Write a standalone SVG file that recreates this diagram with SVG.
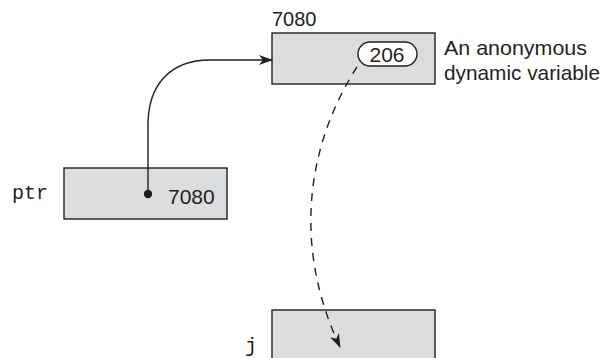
<svg xmlns="http://www.w3.org/2000/svg" width="605" height="358" viewBox="0 0 605 358">
<style>
.box{fill:#dcdddf;stroke:#231f20;stroke-width:1.4}
.t{font-family:"Liberation Sans",Arial,sans-serif;fill:#231f20}
.m{font-family:"Liberation Mono","Courier New",monospace;fill:#231f20}
.ln{fill:none;stroke:#231f20;stroke-width:1.4}
</style>
<defs>
<marker id="ah" viewBox="0 0 14 10" refX="13" refY="5" markerWidth="14" markerHeight="10" markerUnits="userSpaceOnUse" orient="auto">
<path d="M0,0 L14,5 L0,10 L4,5 Z" fill="#231f20"/>
</marker>
</defs>
<rect width="605" height="358" fill="#ffffff"/>
<g id="anon">
<rect class="box" x="272" y="33" width="163" height="51"/>
<text class="t" x="272" y="26" font-size="20">7080</text>
<rect x="358" y="42" width="59" height="24" rx="12" ry="12" fill="#ffffff" stroke="#231f20" stroke-width="1.4"/>
<text class="t" x="387" y="61.5" font-size="21" text-anchor="middle">206</text>
<text class="t" x="444" y="55" font-size="21" textLength="143" lengthAdjust="spacingAndGlyphs">An anonymous</text>
<text class="t" x="444" y="80" font-size="21" textLength="156" lengthAdjust="spacingAndGlyphs">dynamic variable</text>
</g>
<g id="ptr">
<rect class="box" x="64" y="168" width="163" height="51"/>
<text class="m" x="12" y="199" font-size="20">ptr</text>
<text class="t" x="168" y="204" font-size="21">7080</text>
</g>
<g id="j">
<rect class="box" x="272" y="310" width="163" height="60"/>
<text class="m" x="245" y="352" font-size="20">j</text>
</g>
<g id="connectors">
<path class="ln" d="M148,194 L148,125 C148,85 170,60 210,60 L272,60" marker-end="url(#ah)"/>
<circle cx="148" cy="194" r="4.2" fill="#231f20"/>
<path class="ln" d="M357,67 C310,140 290,240 340,347" stroke-dasharray="8,7" marker-end="url(#ah)"/>
</g>
</svg>
